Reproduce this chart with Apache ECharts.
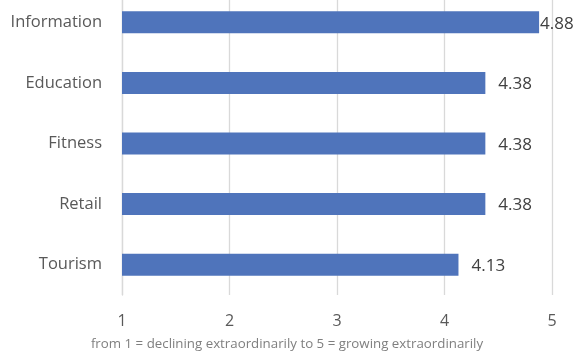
<!DOCTYPE html>
<html>
<head>
<meta charset="utf-8">
<script src="https://cdn.jsdelivr.net/npm/echarts@6/dist/echarts.min.js"></script>
<style>html,body{margin:0;padding:0;background:#fff}#c{width:574px;height:363px}</style>
</head>
<body>
<div id="c"></div>
<script>
var categories = ['Information', 'Education', 'Fitness', 'Retail', 'Tourism'];
var values = [4.88, 4.38, 4.38, 4.38, 4.13];
var xTicks = [1, 2, 3, 4, 5];
var axisTitle = 'from 1 = declining extraordinarily to 5 = growing extraordinarily';

var chart = echarts.init(document.getElementById('c'), null, {renderer: 'canvas'});
var data = values.map(function (v, i) {
  var item = {value: v};
  if (i === 0) item.label = {distance: 1};
  return item;
});
chart.setOption({
  animation: false,
  textStyle: {fontFamily: 'Open Sans'},
  grid: {left: 122, right: 22, top: -8, bottom: 68, containLabel: false, outerBoundsMode: 'none'},
  title: {
    text: axisTitle,
    left: 'center',
    bottom: 7,
    textStyle: {fontSize: 13.3, fontWeight: 'normal', color: '#7f7f7f', fontFamily: 'Open Sans'}
  },
  xAxis: {
    type: 'value',
    min: xTicks[0],
    max: xTicks[xTicks.length - 1],
    interval: 1,
    axisLine: {show: false},
    axisTick: {show: false},
    splitLine: {show: true, lineStyle: {color: '#d9d9d9', width: 1.3}},
    axisLabel: {margin: 18, fontSize: 16, color: '#595959', fontFamily: 'Open Sans'}
  },
  yAxis: {
    type: 'category',
    data: categories,
    inverse: true,
    axisLine: {show: true, lineStyle: {color: '#d9d9d9', width: 1.3}},
    axisTick: {show: false},
    axisLabel: {margin: 20, fontSize: 16.5, color: '#595959', fontFamily: 'Open Sans'}
  },
  series: [{
    type: 'bar',
    data: data,
    barWidth: 22,
    itemStyle: {color: '#4f74bb'},
    label: {
      show: true,
      position: 'right',
      distance: 13,
      offset: [0, 1.5],
      fontSize: 17,
      color: '#404040',
      fontFamily: 'Open Sans',
      formatter: function (p) { return p.value.toFixed(2); }
    }
  }]
});
</script>
</body>
</html>
